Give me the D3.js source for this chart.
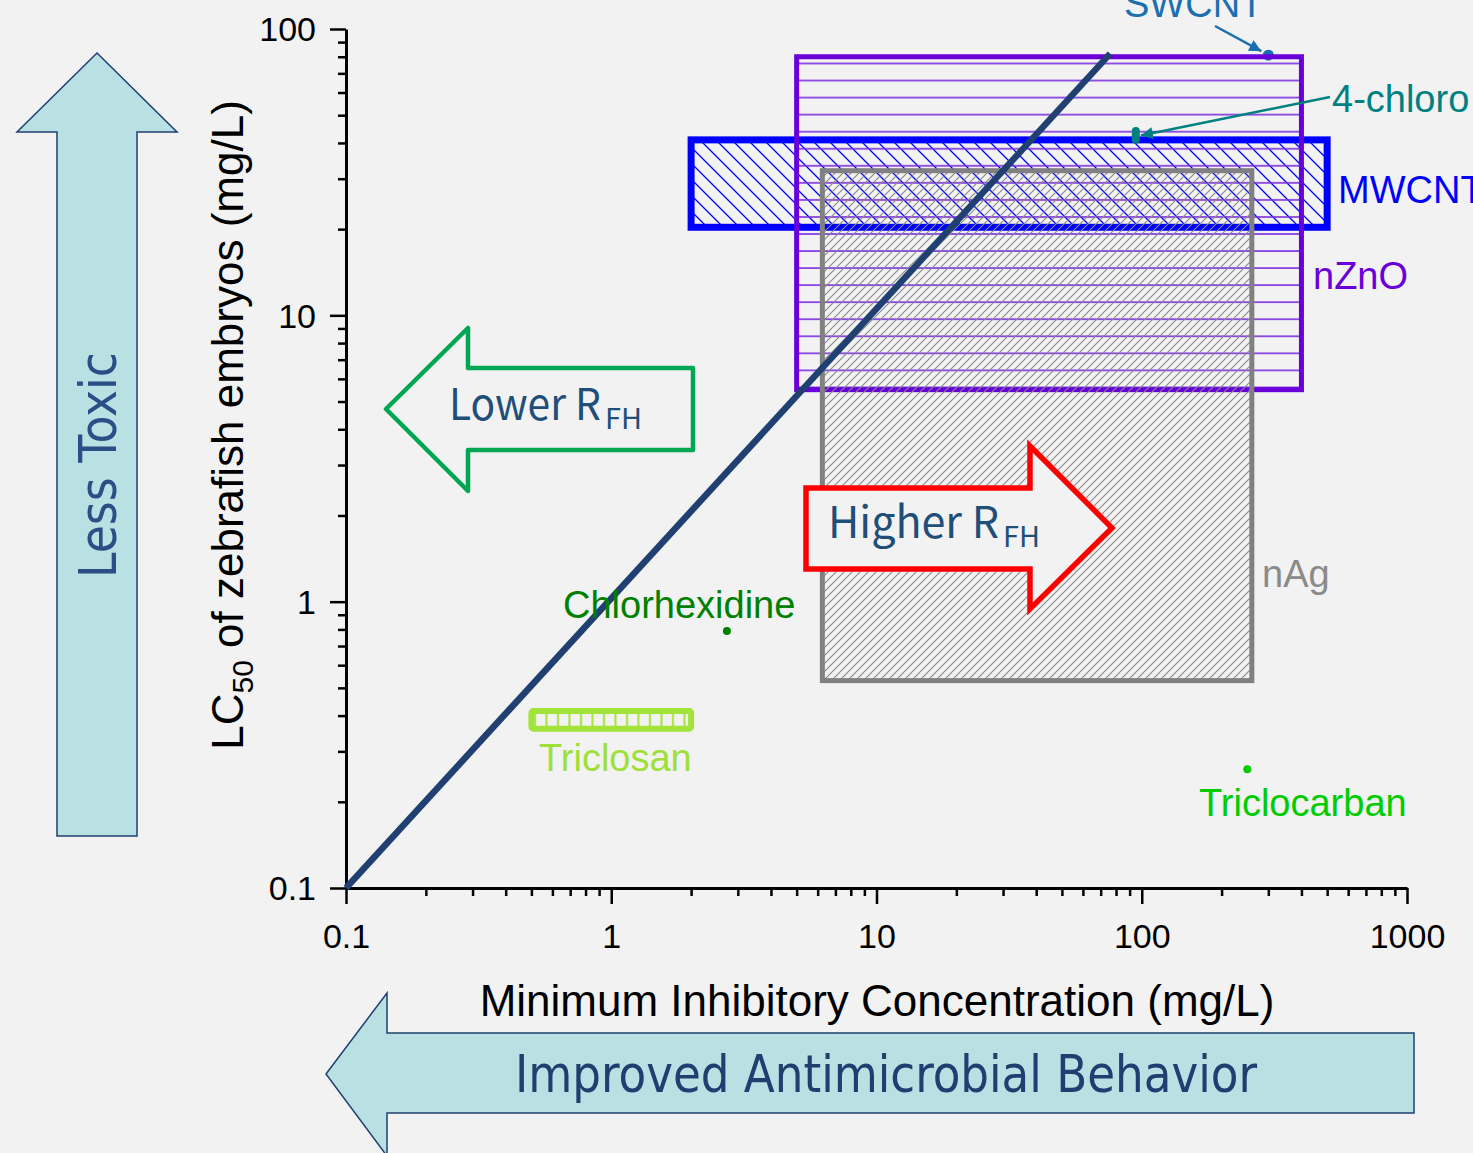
<!DOCTYPE html>
<html>
<head>
<meta charset="utf-8">
<script src="https://cdn.jsdelivr.net/npm/d3@7"></script>
<style>
  html, body { margin: 0; padding: 0; background: #f2f2f2; }
  svg { display: block; }
</style>
</head>
<body>
<svg id="chart"></svg>
<script>
const W = 1473, H = 1153;

// ranges, mg/L
const boxNames  = ["MWCNT", "nZnO", "nAg"];
const boxMicLo  = [2, 5, 6.25];
const boxMicHi  = [500, 400, 260];
const boxLc50Lo = [20.3, 5.5, 0.53];
const boxLc50Hi = [41, 80, 32];

const triclosanMic  = [0.5, 2];
const triclosanLc50 = [0.36, 0.415];

const pointNames = ["Chlorhexidine", "Triclocarban", "SWCNT"];
const pointMic   = [2.73, 250, 300];
const pointLc50  = [0.79, 0.26, 81];

const chloroMic  = 95;
const chloroLc50 = [41, 44];

const lineMic  = [0.1, 76];
const lineLc50 = [0.1, 82];

const xTicks = [0.1, 1, 10, 100, 1000];
const xTickLabels = ["0.1", "1", "10", "100", "1000"];
const yTicks = [0.1, 1, 10, 100];
const yTickLabels = ["0.1", "1", "10", "100"];

const ARIAL = "'Liberation Sans', Arial, sans-serif";
const NARROW = "'Liberation Sans Narrow', 'DejaVu Sans Condensed', sans-serif";
const GOTHIC = "'Noto Sans CJK JP', 'Noto Sans', sans-serif";
const NAVY = "#1f3f70";

const x = d3.scaleLog().domain([0.1, 1000]).range([346, 1407]);
const y = d3.scaleLog().domain([0.1, 100]).range([888, 29]);

const svg = d3.select("#chart").attr("width", W).attr("height", H)
  .attr("viewBox", `0 0 ${W} ${H}`);
svg.append("rect").attr("width", W).attr("height", H).attr("fill", "#f2f2f2");

const defs = svg.append("defs");
function hatch(id, w, h, d, color, sw) {
  defs.append("pattern").attr("id", id)
    .attr("patternUnits", "userSpaceOnUse").attr("width", w).attr("height", h)
    .append("path").attr("d", d).attr("fill", "none")
    .attr("stroke", color).attr("stroke-width", sw);
}
hatch("h-MWCNT", 16, 16, "M-4,-4L20,20M-4,12L4,20M12,-4L20,4", "#0000ff", 1.3);
hatch("h-nZnO", 20, 17.05, "M0,12.35H20", "#7a2ee0", 1.6);
hatch("h-nAg", 8, 8, "M-2,2L2,-2M0,8L8,0M6,10L10,6", "#8a8a8a", 1.1);
hatch("h-tcs", 11.5, 20, "M6,0V20", "#a2e33a", 2);

function arrowMarker(id, color) {
  defs.append("marker").attr("id", id)
    .attr("viewBox", "0 0 10 10").attr("refX", 10).attr("refY", 5)
    .attr("markerWidth", 20).attr("markerHeight", 12)
    .attr("markerUnits", "userSpaceOnUse").attr("orient", "auto")
    .append("path").attr("d", "M0,0L10,5L0,10Z").attr("fill", color);
}
arrowMarker("m-swcnt", "#1a6fb0");
arrowMarker("m-chloro", "#008080");

// --- side arrows (decoration) ---
const blockArrow = pts => "M" + pts.map(p => p.join(",")).join("L") + "Z";
svg.append("path")
  .attr("d", blockArrow([[97,53],[177,132],[137,132],[137,836],[57,836],[57,132],[17,132]]))
  .attr("fill", "#b9e0e3").attr("stroke", NAVY).attr("stroke-width", 1.5);
svg.append("text").attr("transform", "translate(116,465) rotate(-90)")
  .attr("text-anchor", "middle").attr("font-family", NARROW).attr("font-size", 52)
  .attr("textLength", 226).attr("lengthAdjust", "spacingAndGlyphs")
  .attr("fill", "#2a4f86").text("Less Toxic");

svg.append("path")
  .attr("d", blockArrow([[326,1074],[387,993],[387,1033],[1414,1033],[1414,1113],[387,1113],[387,1156]]))
  .attr("fill", "#b9e0e3").attr("stroke", NAVY).attr("stroke-width", 1.5);
svg.append("text").attr("x", 886).attr("y", 1092)
  .attr("text-anchor", "middle").attr("font-family", NARROW).attr("font-size", 52)
  .attr("textLength", 742).attr("lengthAdjust", "spacingAndGlyphs")
  .attr("fill", NAVY).text("Improved Antimicrobial Behavior");

// --- axes ---
function styleAxis(g) {
  g.select(".domain").attr("stroke", "#000").attr("stroke-width", 3);
  g.selectAll(".tick line").attr("stroke", "#000").attr("stroke-width", 2.5);
  g.selectAll(".tick text").attr("font-family", ARIAL).attr("font-size", 34).attr("fill", "#000");
}
const minor = dom => {
  const out = [];
  for (let e = Math.log10(dom[0]); e < Math.log10(dom[1]); e++)
    for (let k = 2; k <= 9; k++) out.push(k * Math.pow(10, e));
  return out;
};

const gx = svg.append("g").attr("transform", `translate(0,${y(0.1)})`);
gx.append("g").call(d3.axisBottom(x).tickValues(minor(x.domain())).tickSize(8).tickFormat(""))
  .call(g => { g.select(".domain").remove(); g.selectAll("line").attr("stroke-width", 2.5); });
gx.append("g").call(d3.axisBottom(x).tickValues(xTicks).tickSize(16).tickSizeOuter(0)
  .tickFormat((d, i) => xTickLabels[i]))
  .call(styleAxis)
  .call(g => g.selectAll(".tick text").attr("y", 60).attr("dy", 0));

const gy = svg.append("g").attr("transform", `translate(${x(0.1)},0)`);
gy.append("g").call(d3.axisLeft(y).tickValues(minor(y.domain())).tickSize(8).tickFormat(""))
  .call(g => { g.select(".domain").remove(); g.selectAll("line").attr("stroke-width", 2.5); });
gy.append("g").call(d3.axisLeft(y).tickValues(yTicks).tickSize(16).tickSizeOuter(0)
  .tickFormat((d, i) => yTickLabels[i]))
  .call(styleAxis)
  .call(g => g.selectAll(".tick text").attr("x", -30).attr("dy", "0.35em"));

svg.append("text").attr("x", 877).attr("y", 1016).attr("text-anchor", "middle")
  .attr("font-family", ARIAL).attr("font-size", 44).attr("fill", "#000")
  .text("Minimum Inhibitory Concentration (mg/L)");

const yl = svg.append("text").attr("transform", "translate(243,425) rotate(-90)")
  .attr("text-anchor", "middle").attr("font-family", ARIAL).attr("font-size", 44).attr("fill", "#000");
yl.append("tspan").text("LC");
yl.append("tspan").attr("font-size", 30).attr("dy", 10).text("50");
yl.append("tspan").attr("dy", -10).text(" of zebrafish embryos (mg/L)");

// --- SWCNT marker sits under the nZnO border ---
const pts = pointNames.map((n, i) => ({ name: n, mic: pointMic[i], lc: pointLc50[i] }));
const pointColor = { Chlorhexidine: "#008000", Triclocarban: "#00cc00", SWCNT: "#1a6fb0" };
const pointR = { Chlorhexidine: 4, Triclocarban: 4, SWCNT: 5.5 };
svg.append("g").selectAll("circle").data(pts.filter(p => p.name === "SWCNT")).join("circle")
  .attr("cx", d => x(d.mic)).attr("cy", d => y(d.lc)).attr("r", d => pointR[d.name])
  .attr("fill", d => pointColor[d.name]);

// --- range boxes ---
const boxes = boxNames.map((n, i) => ({
  name: n, x0: boxMicLo[i], x1: boxMicHi[i], y0: boxLc50Lo[i], y1: boxLc50Hi[i]
}));
const boxColor = { MWCNT: "#0000ff", nZnO: "#6a00d9", nAg: "#808080" };
const boxStroke = { MWCNT: 7, nZnO: 5, nAg: 5 };
svg.append("g").selectAll("rect").data(boxes).join("rect")
  .attr("x", d => x(d.x0)).attr("y", d => y(d.y1))
  .attr("width", d => x(d.x1) - x(d.x0)).attr("height", d => y(d.y0) - y(d.y1))
  .attr("fill", d => `url(#h-${d.name})`)
  .attr("stroke", d => boxColor[d.name]).attr("stroke-width", d => boxStroke[d.name]);

// triclosan
svg.append("rect")
  .attr("x", x(triclosanMic[0])).attr("y", y(triclosanLc50[1]))
  .attr("width", x(triclosanMic[1]) - x(triclosanMic[0]))
  .attr("height", y(triclosanLc50[0]) - y(triclosanLc50[1]))
  .attr("rx", 2).attr("fill", "url(#h-tcs)")
  .attr("stroke", "#a2e33a").attr("stroke-width", 6);

// 4-chloro small bar
svg.append("line")
  .attr("x1", x(chloroMic)).attr("x2", x(chloroMic))
  .attr("y1", y(chloroLc50[0])).attr("y2", y(chloroLc50[1]))
  .attr("stroke", "#008080").attr("stroke-width", 8).attr("stroke-linecap", "round");

// diagonal reference line
svg.append("path")
  .datum(lineMic.map((m, i) => [m, lineLc50[i]]))
  .attr("d", d3.line().x(d => x(d[0])).y(d => y(d[1])))
  .attr("fill", "none").attr("stroke", "#1f4070").attr("stroke-width", 6.5);

// points
svg.append("g").selectAll("circle").data(pts.filter(p => p.name !== "SWCNT")).join("circle")
  .attr("cx", d => x(d.mic)).attr("cy", d => y(d.lc)).attr("r", d => pointR[d.name])
  .attr("fill", d => pointColor[d.name]);

// --- R_FH arrows ---
svg.append("path")
  .attr("d", blockArrow([[386,409],[468,328],[468,368],[693,368],[693,450],[468,450],[468,491]]))
  .attr("fill", "none").attr("stroke", "#00a651").attr("stroke-width", 4.5)
  .attr("stroke-linejoin", "round");
svg.append("path")
  .attr("d", blockArrow([[806,488],[1030,488],[1030,446],[1112,528],[1030,609],[1030,569],[806,569]]))
  .attr("fill", "#f2f2f2").attr("stroke", "#ff0000").attr("stroke-width", 5.5);

function rfh(x0, base, mainLen, word) {
  svg.append("text").attr("x", x0).attr("y", base)
    .attr("font-family", GOTHIC).attr("font-size", 44).attr("fill", "#1f4e79")
    .attr("textLength", mainLen).attr("lengthAdjust", "spacingAndGlyphs").text(word + " R");
  svg.append("text").attr("x", x0 + mainLen + 4).attr("y", base + 9)
    .attr("font-family", GOTHIC).attr("font-size", 28).attr("fill", "#1f4e79")
    .attr("textLength", 37).attr("lengthAdjust", "spacingAndGlyphs").text("FH");
}
rfh(449, 420, 152, "Lower");
rfh(828, 538, 171, "Higher");

// --- labels ---
const labelPlace = {
  MWCNT: [1338, 203, "#0000ff"],
  nZnO: [1313, 289, "#6a00d9"],
  nAg: [1262, 587, "#8a8a8a"],
  Chlorhexidine: [563, 618, "#008000"],
  Triclosan: [539, 771, "#9ee03a"],
  Triclocarban: [1199, 816, "#00cc00"],
  SWCNT: [1124, 17, "#1a6fb0"],
  "4-chloro": [1332, 112, "#008080"]
};
svg.append("g").selectAll("text").data(Object.entries(labelPlace)).join("text")
  .attr("x", d => d[1][0]).attr("y", d => d[1][1]).attr("fill", d => d[1][2])
  .attr("font-family", ARIAL).attr("font-size", 38).text(d => d[0]);

// callout arrows
const sw = pts.find(p => p.name === "SWCNT");
svg.append("line").attr("x1", 1215).attr("y1", 26)
  .attr("x2", x(sw.mic) - 7).attr("y2", y(sw.lc) - 4)
  .attr("stroke", "#1a6fb0").attr("stroke-width", 2.5).attr("marker-end", "url(#m-swcnt)");
svg.append("line").attr("x1", 1330).attr("y1", 97)
  .attr("x2", x(chloroMic) + 5).attr("y2", y(d3.mean(chloroLc50)))
  .attr("stroke", "#008080").attr("stroke-width", 2.5).attr("marker-end", "url(#m-chloro)");
</script>
</body>
</html>
